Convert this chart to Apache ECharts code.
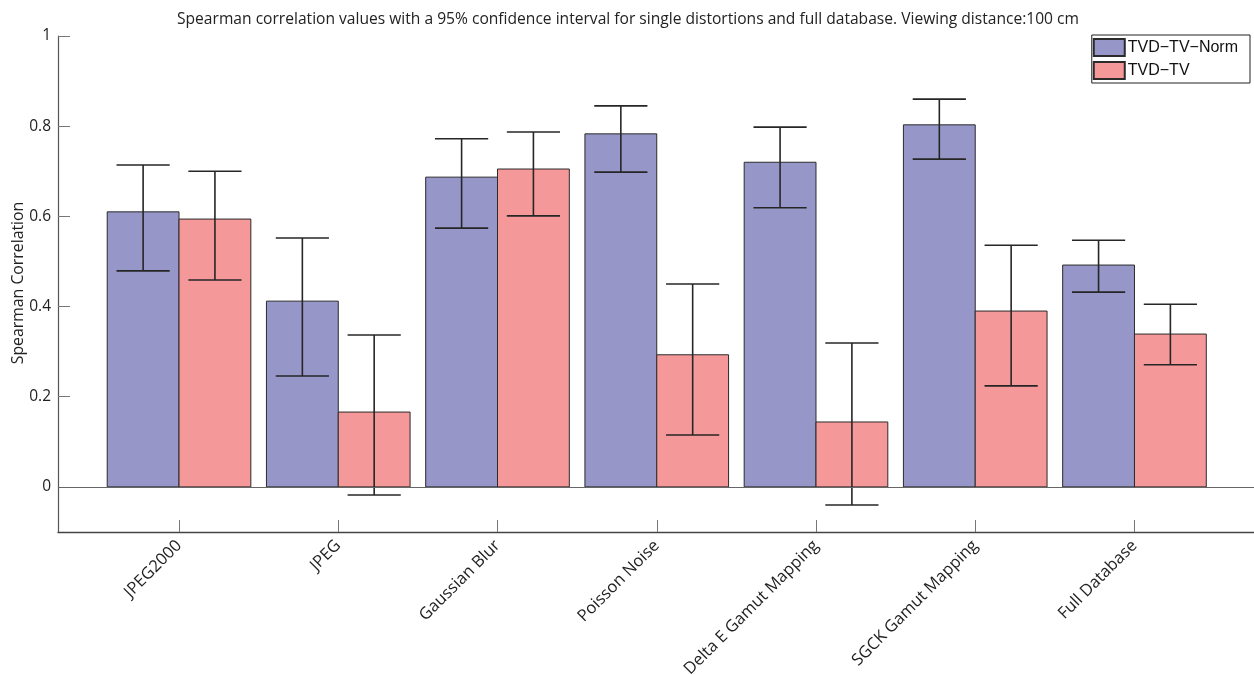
<!DOCTYPE html>
<html>
<head>
<meta charset="utf-8">
<script src="https://cdn.jsdelivr.net/npm/echarts@6/dist/echarts.min.js"></script>
<style>
  html, body { margin: 0; padding: 0; background: #fff; }
  #main { width: 1254px; height: 675px; }
</style>
</head>
<body>
<div id="main"></div>
<script>
var categories = ['JPEG2000', 'JPEG', 'Gaussian Blur', 'Poisson Noise', 'Delta E Gamut Mapping', 'SGCK Gamut Mapping', 'Full Database'];
var normValues = [0.610, 0.412, 0.687, 0.783, 0.720, 0.803, 0.492];
var normLow    = [0.479, 0.246, 0.574, 0.698, 0.619, 0.727, 0.432];
var normHigh   = [0.714, 0.552, 0.772, 0.845, 0.798, 0.860, 0.547];
var tvValues   = [0.594, 0.166, 0.705, 0.293, 0.144, 0.390, 0.339];
var tvLow      = [0.459, -0.018, 0.601, 0.115, -0.040, 0.224, 0.271];
var tvHigh     = [0.700, 0.337, 0.787, 0.450, 0.319, 0.536, 0.405];
var yTicks = [0, 0.2, 0.4, 0.6, 0.8, 1];
var xTicks = [1, 2, 3, 4, 5, 6, 7];

var chart = echarts.init(document.getElementById('main'));

// half bar width and cap half width, in x units
var halfBar = 0.2255;
var capHalf = 0.167;

function makeData(vals, lo, hi) {
  return vals.map(function (v, i) { return [i + 1, v, lo[i], hi[i]]; });
}

function barRender(offset, fill) {
  return function (params, api) {
    var x = api.value(0) + offset;
    var left = api.coord([x - halfBar, api.value(1)]);
    var right = api.coord([x + halfBar, 0]);
    var lo = api.coord([x, api.value(2)]);
    var hi = api.coord([x, api.value(3)]);
    var capL = api.coord([x - capHalf, 0])[0];
    var capR = api.coord([x + capHalf, 0])[0];
    var lineStyle = { stroke: '#262626', lineWidth: 1.6 };
    return {
      type: 'group',
      children: [
        { type: 'rect', shape: { x: left[0], y: left[1], width: right[0] - left[0], height: right[1] - left[1] },
          style: { fill: fill, stroke: '#2b2b2b', lineWidth: 1 } },
        { type: 'line', shape: { x1: lo[0], y1: lo[1], x2: hi[0], y2: hi[1] }, style: lineStyle },
        { type: 'line', shape: { x1: capL, y1: lo[1], x2: capR, y2: lo[1] }, style: lineStyle },
        { type: 'line', shape: { x1: capL, y1: hi[1], x2: capR, y2: hi[1] }, style: lineStyle }
      ]
    };
  };
}

var option = {
  animation: false,
  textStyle: { fontFamily: 'Open Sans' },
  grid: { left: 58, right: -1.5, top: 36, bottom: 143, containLabel: false, outerBoundsMode: 'none' },
  graphic: [
    { type: 'text', x: 628, y: 20,
      style: { text: 'Spearman correlation values with a 95% confidence interval for single distortions and full database. Viewing distance:100 cm',
        fontFamily: 'Open Sans', fontSize: 15.6, fill: '#222', align: 'center', verticalAlign: 'middle' } },
    { type: 'text', x: 18, y: 283, rotation: Math.PI / 2,
      style: { text: 'Spearman Correlation', fontFamily: 'Open Sans', fontSize: 15.8, fill: '#222',
        align: 'center', verticalAlign: 'middle' } }
  ],
  legend: {
    orient: 'vertical', right: 4, top: 35,
    itemWidth: 31, itemHeight: 17, itemGap: 4,
    padding: [3, 12, 3, 1],
    borderColor: '#222', borderWidth: 1,
    icon: 'rect',
    textStyle: { fontFamily: 'Liberation Sans', fontSize: 16, color: '#111', padding: [0, 0, 0, -2] },
    data: ['TVD\u2212TV\u2212Norm', 'TVD\u2212TV']
  },
  xAxis: {
    type: 'value', min: 0.24, max: 7.76,
    axisLine: { show: true, onZero: false, lineStyle: { color: '#444', width: 1.4 } },
    axisTick: { show: true, inside: true, length: 12, customValues: xTicks, lineStyle: { color: '#777' } },
    axisLabel: { customValues: xTicks, rotate: 45, margin: 11, fontSize: 16.5, color: '#222',
      formatter: function (v) { return categories[Math.round(v) - 1] || ''; } },
    splitLine: { show: false }
  },
  yAxis: {
    type: 'value', min: -0.1, max: 1,
    axisLine: { show: true, lineStyle: { color: '#555', width: 1.2 } },
    axisTick: { show: true, inside: true, length: 12, customValues: yTicks, lineStyle: { color: '#777' } },
    axisLabel: { customValues: yTicks, margin: 7, fontSize: 15.5, color: '#222',
      formatter: function (v) { return String(Math.round(v * 10) / 10); } },
    splitLine: { show: false }
  },
  series: [
    {
      name: 'TVD\u2212TV\u2212Norm', type: 'custom',
      itemStyle: { color: '#9696c8', borderColor: '#2b2b2b', borderWidth: 1 },
      renderItem: barRender(-halfBar, '#9696c8'),
      encode: { x: 0, y: [1, 2, 3] },
      data: makeData(normValues, normLow, normHigh),
      markLine: { silent: true, symbol: 'none', label: { show: false },
        lineStyle: { color: '#666', width: 1.2, type: 'solid' }, data: [{ yAxis: 0 }] }
    },
    {
      name: 'TVD\u2212TV', type: 'custom',
      itemStyle: { color: '#f59899', borderColor: '#2b2b2b', borderWidth: 1 },
      renderItem: barRender(halfBar, '#f59899'),
      encode: { x: 0, y: [1, 2, 3] },
      data: makeData(tvValues, tvLow, tvHigh)
    }
  ]
};
chart.setOption(option);
</script>
</body>
</html>
